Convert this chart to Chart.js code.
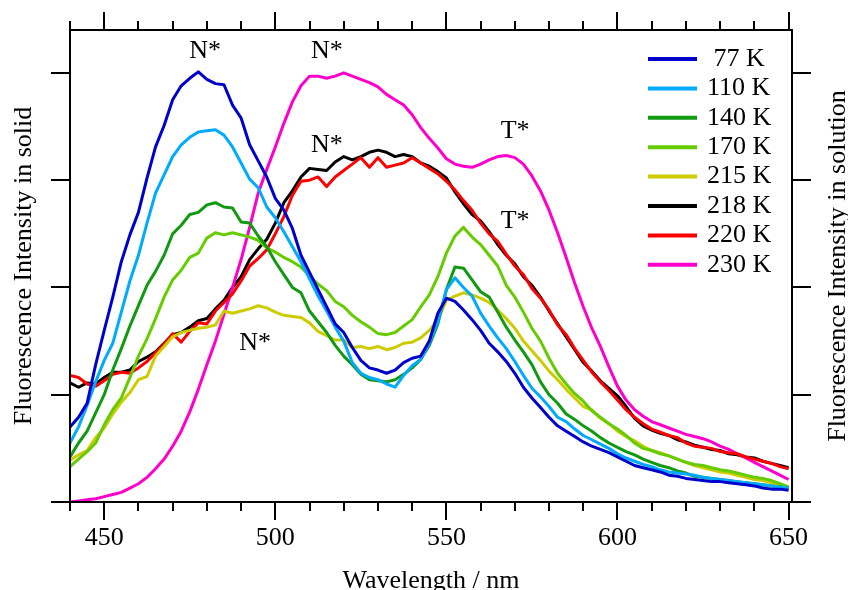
<!DOCTYPE html>
<html><head><meta charset="utf-8">
<script src="https://cdn.jsdelivr.net/npm/chart.js@4.4.1/dist/chart.umd.min.js"></script>
<style>html,body{margin:0;padding:0;background:#fff}#wrap{width:848px;height:590px}</style>
</head><body><div id="wrap"><canvas id="c" width="848" height="590"></canvas></div>
<script>
const wavelengths = [440,442.5,445,447.5,450,452.5,455,457.5,460,462.5,
  465,467.5,470,472.5,475,477.5,480,482.5,485,487.5,
  490,492.5,495,497.5,500,502.5,505,507.5,510,512.5,
  515,517.5,520,522.5,525,527.5,530,532.5,535,537.5,
  540,542.5,545,547.5,550,552.5,555,557.5,560,562.5,
  565,567.5,570,572.5,575,577.5,580,582.5,585,587.5,
  590,592.5,595,597.5,600,602.5,605,607.5,610,612.5,
  615,617.5,620,622.5,625,627.5,630,632.5,635,637.5,
  640,642.5,645,647.5,650];
const k77 = [0.70,0.79,0.92,1.28,1.60,1.91,2.24,2.49,2.70,3.02,
  3.31,3.51,3.75,3.88,3.95,4.01,3.94,3.90,3.89,3.70,
  3.58,3.33,3.18,3.03,2.83,2.72,2.55,2.30,2.14,1.98,
  1.82,1.66,1.58,1.44,1.32,1.25,1.23,1.20,1.23,1.30,
  1.34,1.36,1.50,1.76,1.90,1.87,1.79,1.70,1.60,1.48,
  1.40,1.31,1.20,1.07,0.97,0.88,0.79,0.71,0.66,0.61,
  0.56,0.52,0.49,0.46,0.42,0.38,0.34,0.32,0.30,0.28,
  0.25,0.24,0.22,0.21,0.20,0.19,0.19,0.18,0.17,0.16,
  0.15,0.13,0.12,0.12,0.11];
const k110 = [0.55,0.70,0.90,1.12,1.32,1.48,1.77,2.06,2.30,2.60,
  2.88,3.05,3.22,3.33,3.40,3.45,3.46,3.47,3.42,3.31,
  3.16,3.01,2.93,2.75,2.65,2.52,2.38,2.24,2.08,1.92,
  1.78,1.63,1.50,1.30,1.20,1.16,1.14,1.10,1.07,1.18,
  1.27,1.33,1.48,1.68,1.98,2.09,2.00,1.92,1.76,1.64,
  1.53,1.43,1.31,1.18,1.06,0.98,0.89,0.79,0.75,0.68,
  0.62,0.58,0.54,0.50,0.45,0.41,0.38,0.35,0.33,0.30,
  0.28,0.27,0.26,0.25,0.23,0.22,0.21,0.20,0.19,0.18,
  0.17,0.16,0.15,0.14,0.13];
const k140 = [0.42,0.55,0.66,0.83,1.00,1.23,1.43,1.64,1.83,2.02,
  2.15,2.30,2.50,2.58,2.68,2.70,2.77,2.79,2.75,2.74,
  2.61,2.60,2.48,2.38,2.24,2.12,2.00,1.95,1.78,1.68,
  1.58,1.46,1.36,1.28,1.19,1.14,1.13,1.12,1.14,1.19,
  1.25,1.33,1.46,1.66,1.98,2.19,2.18,2.07,1.96,1.91,
  1.77,1.63,1.51,1.40,1.28,1.12,1.00,0.92,0.82,0.77,
  0.71,0.66,0.60,0.55,0.51,0.47,0.44,0.40,0.37,0.34,
  0.32,0.29,0.27,0.24,0.23,0.22,0.21,0.20,0.19,0.18,
  0.17,0.16,0.15,0.14,0.13];
const k170 = [0.33,0.40,0.47,0.55,0.72,0.86,0.97,1.16,1.36,1.52,
  1.71,1.91,2.07,2.16,2.28,2.32,2.46,2.51,2.49,2.51,
  2.49,2.47,2.44,2.37,2.33,2.28,2.24,2.19,2.11,2.03,
  1.97,1.87,1.82,1.74,1.68,1.63,1.57,1.56,1.58,1.64,
  1.70,1.82,1.93,2.10,2.32,2.48,2.56,2.47,2.40,2.30,
  2.20,2.02,1.91,1.77,1.62,1.50,1.34,1.20,1.10,1.01,
  0.94,0.85,0.79,0.73,0.68,0.62,0.55,0.50,0.48,0.45,
  0.43,0.40,0.37,0.35,0.34,0.32,0.30,0.29,0.27,0.25,
  0.23,0.22,0.20,0.17,0.14];
const k215 = [0.39,0.44,0.48,0.60,0.69,0.82,0.93,1.02,1.14,1.17,
  1.36,1.45,1.54,1.58,1.60,1.62,1.63,1.65,1.78,1.76,
  1.78,1.80,1.83,1.81,1.77,1.74,1.73,1.72,1.67,1.59,
  1.55,1.51,1.51,1.44,1.45,1.43,1.45,1.42,1.44,1.48,
  1.49,1.53,1.60,1.70,1.88,1.92,1.95,1.93,1.90,1.86,
  1.79,1.71,1.62,1.50,1.41,1.32,1.22,1.14,1.05,0.97,
  0.89,0.86,0.78,0.73,0.66,0.61,0.57,0.52,0.48,0.46,
  0.43,0.40,0.37,0.34,0.32,0.30,0.28,0.27,0.25,0.23,
  0.21,0.20,0.18,0.15,0.13];
const k218 = [1.11,1.07,1.11,1.10,1.16,1.21,1.21,1.23,1.31,1.35,
  1.40,1.48,1.56,1.58,1.63,1.69,1.71,1.80,1.88,2.00,
  2.10,2.26,2.36,2.45,2.60,2.79,2.90,3.03,3.11,3.10,
  3.09,3.17,3.22,3.19,3.22,3.26,3.28,3.26,3.22,3.24,
  3.22,3.16,3.13,3.08,3.02,2.89,2.78,2.68,2.62,2.52,
  2.40,2.30,2.22,2.10,2.02,1.91,1.78,1.66,1.54,1.42,
  1.30,1.22,1.13,1.06,0.99,0.89,0.78,0.71,0.67,0.64,
  0.62,0.58,0.56,0.53,0.51,0.49,0.48,0.45,0.44,0.42,
  0.41,0.38,0.36,0.34,0.32];
const k220 = [1.18,1.16,1.10,1.08,1.13,1.19,1.21,1.20,1.25,1.31,
  1.39,1.47,1.57,1.49,1.59,1.67,1.66,1.78,1.86,1.94,
  2.06,2.20,2.27,2.35,2.50,2.66,2.86,2.99,3.00,3.03,
  2.94,3.03,3.09,3.15,3.21,3.12,3.21,3.12,3.14,3.16,
  3.21,3.16,3.11,3.06,2.99,2.91,2.81,2.72,2.60,2.50,
  2.43,2.31,2.20,2.12,1.99,1.90,1.79,1.65,1.56,1.43,
  1.32,1.21,1.12,1.04,0.95,0.86,0.79,0.73,0.68,0.65,
  0.62,0.60,0.55,0.52,0.51,0.50,0.47,0.46,0.45,0.42,
  0.40,0.38,0.36,0.33,0.31];
const k230 = [0.00,0.01,0.02,0.03,0.05,0.07,0.09,0.13,0.17,0.23,
  0.31,0.40,0.52,0.66,0.84,1.05,1.28,1.50,1.75,2.00,
  2.26,2.56,2.88,3.10,3.31,3.53,3.73,3.88,3.97,3.97,
  3.95,3.97,4.00,3.97,3.94,3.91,3.87,3.80,3.75,3.70,
  3.61,3.49,3.39,3.30,3.20,3.15,3.13,3.12,3.15,3.19,
  3.22,3.23,3.21,3.15,3.04,2.90,2.72,2.51,2.28,2.04,
  1.82,1.62,1.45,1.26,1.08,0.95,0.86,0.80,0.75,0.72,
  0.69,0.66,0.63,0.61,0.59,0.56,0.52,0.49,0.45,0.41,
  0.37,0.33,0.29,0.25,0.21];
const seriesLabels = [' 77 K','110 K','140 K','170 K','215 K','218 K','220 K','230 K'];
const seriesColors = ['#0000CC','#00AAFF','#119911','#66CC00','#CCCC00','#000000','#FF0000','#FF00CC'];
const seriesValues = [k77,k110,k140,k170,k215,k218,k220,k230];
const xTickLabels = [450,500,550,600,650];
const annotationText = ['N*','N*','N*','T*','T*','N*'];
const annotationX = [479.5,515.1,515.1,570.1,570.1,494.1];
const annotationY = [4.20,4.20,3.33,3.46,2.62,1.48];
const FONT = 'Liberation Serif';

const datasets = seriesValues.map((vals,i)=>({
  label: seriesLabels[i],
  data: wavelengths.map((w,j)=>({x:w,y:vals[j]})),
  borderColor: seriesColors[i],
  backgroundColor: seriesColors[i],
  borderWidth: 3,
  pointRadius: 0,
  tension: 0,
  fill: false,
  borderJoinStyle: 'round',
  order: i===5 ? 1 : 0,
  xAxisID: 'x', yAxisID: 'y'
}));

const framePlugin = {
  id: 'frame',
  afterDraw(chart){
    const ctx = chart.ctx, a = chart.chartArea;
    const xs = chart.scales.x, ys = chart.scales.y;
    ctx.save();
    ctx.strokeStyle = '#000'; ctx.lineWidth = 2; ctx.lineCap = 'butt';
    ctx.strokeRect(a.left, a.top, a.right - a.left, a.bottom - a.top);
    ctx.beginPath();
    for (let v = 440; v <= 650; v += 10) {
      const px = Math.round(xs.getPixelForValue(v));
      const major = v % 50 === 0;
      ctx.moveTo(px, a.bottom); ctx.lineTo(px, a.bottom + (major ? 18 : 9));
      ctx.moveTo(px, a.top); ctx.lineTo(px, a.top - (major ? 18 : 9));
    }
    for (let v = 0; v <= 4; v++) {
      const py = Math.round(ys.getPixelForValue(v));
      ctx.moveTo(a.left, py); ctx.lineTo(a.left - 19, py);
      ctx.moveTo(a.right, py); ctx.lineTo(a.right + 19, py);
    }
    ctx.stroke();
    ctx.fillStyle = '#000';
    ctx.font = '26px "' + FONT + '"';
    ctx.textAlign = 'center'; ctx.textBaseline = 'alphabetic';
    ctx.fillText('Wavelength / nm', (a.left + a.right) / 2, 588);
    ctx.save(); ctx.translate(31, (a.top + a.bottom) / 2); ctx.rotate(-Math.PI / 2);
    ctx.fillText('Fluorescence Intensity in solid', 0, 0); ctx.restore();
    ctx.save(); ctx.translate(845, (a.top + a.bottom) / 2); ctx.rotate(-Math.PI / 2);
    ctx.fillText('Fluorescence Intensity in solution', 0, 0); ctx.restore();
    ctx.textBaseline = 'middle';
    annotationText.forEach((t,i)=>{
      ctx.fillText(t, xs.getPixelForValue(annotationX[i]), ys.getPixelForValue(annotationY[i]));
    });
    ctx.textAlign = 'left';
    chart.data.datasets.forEach((d,i)=>{
      const y = 59 + i * 29.4;
      ctx.strokeStyle = d.borderColor; ctx.lineWidth = 4;
      ctx.beginPath(); ctx.moveTo(648, y); ctx.lineTo(697, y); ctx.stroke();
      ctx.fillText(d.label, 707, y);
    });
    ctx.restore();
  }
};

new Chart(document.getElementById('c'), {
  type: 'line',
  data: { datasets },
  options: {
    responsive: false, animation: false, devicePixelRatio: 1,
    layout: { padding: 0 },
    plugins: { legend: { display: false }, tooltip: { enabled: false } },
    scales: {
      x: {
        type: 'linear', position: 'bottom', min: 440, max: 651,
        afterBuildTicks: s => { s.ticks = xTickLabels.map(v => ({ value: v })); },
        afterFit: s => { s.height = 88; },
        grid: { display: false, drawTicks: false },
        border: { display: false },
        ticks: { color: '#000', padding: 21, maxRotation: 0, autoSkip: false, font: { family: FONT, size: 26 } }
      },
      x2: {
        type: 'linear', position: 'top', min: 440, max: 651,
        afterFit: s => { s.height = 30; },
        grid: { display: false, drawTicks: false }, border: { display: false },
        ticks: { display: false }
      },
      y: {
        type: 'linear', position: 'left', min: 0, max: 4.4,
        afterFit: s => { s.width = 70; },
        grid: { display: false, drawTicks: false }, border: { display: false },
        ticks: { display: false }
      },
      y2: {
        type: 'linear', position: 'right', min: 0, max: 4.4,
        afterFit: s => { s.width = 56; },
        grid: { display: false, drawTicks: false }, border: { display: false },
        ticks: { display: false }
      }
    }
  },
  plugins: [framePlugin]
});
</script></body></html>
